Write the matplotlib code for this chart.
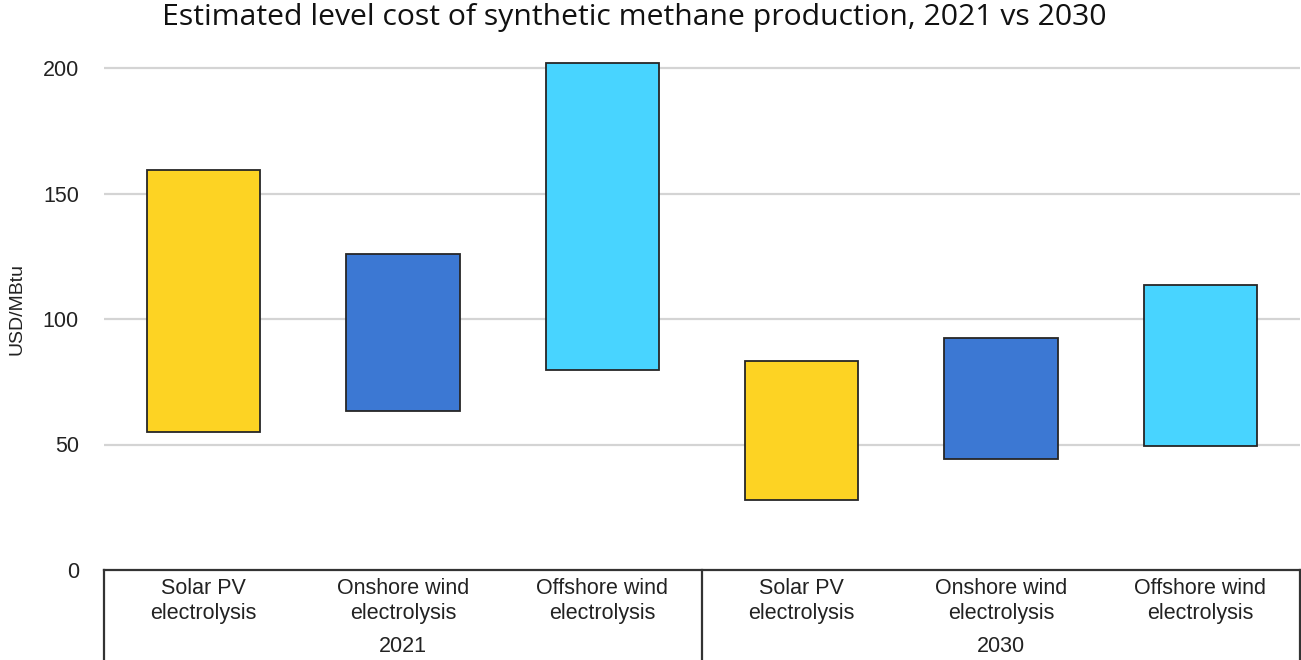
import matplotlib
matplotlib.use("Agg")
import matplotlib.pyplot as plt
import matplotlib.transforms as mtransforms

# Cost ranges (USD/MBtu) for each technology and year
technologies = ["Solar PV\nelectrolysis", "Onshore wind\nelectrolysis", "Offshore wind\nelectrolysis"]
years = ["2021", "2030"]
low_2021 = [55.0, 63.3, 79.7]
high_2021 = [159.4, 126.0, 202.0]
low_2030 = [27.9, 44.2, 49.5]
high_2030 = [83.3, 92.6, 113.6]
colors = ["#FDD323", "#3C78D3", "#48D4FF"]
yticks = [0, 50, 100, 150, 200]

plt.rcParams["font.family"] = ["Liberation Sans", "DejaVu Sans"]

fig = plt.figure(figsize=(13.01, 6.60), dpi=100)
W, H = 1301, 660
ax_left, ax_right = 104 / W, 1300 / W
y0_px, y200_px = 570, 68
px_per_unit = (y0_px - y200_px) / 200
ymax = 210
ax_top_px = y0_px - ymax * px_per_unit
ax = fig.add_axes([ax_left, 1 - y0_px / H, ax_right - ax_left, (y0_px - ax_top_px) / H])

lows = low_2021 + low_2030
highs = high_2021 + high_2030
positions = list(range(len(lows)))
bar_colors = colors * len(years)

ax.bar(positions, [h - l for h, l in zip(highs, lows)], bottom=lows, width=0.57,
       color=bar_colors, edgecolor="#262626", linewidth=1.3, zorder=3)

ax.set_xlim(-0.5, len(lows) - 0.5)
ax.set_ylim(0, ymax)
ax.set_yticks(yticks)
ax.set_yticklabels([str(t) for t in yticks], fontsize=15.5, color="#222222")
ax.tick_params(axis="y", length=0, pad=18)
ax.set_xticks([])
for y in yticks[1:]:
    ax.axhline(y, color="#d4d4d4", linewidth=1.6, zorder=1)
for s in ax.spines.values():
    s.set_visible(False)

ax.set_ylabel("USD/MBtu", fontsize=14, color="#222222")
ax.yaxis.set_label_coords(-0.066, 0.495)

# Grouped category axis drawn as a box below the plot
trans = mtransforms.blended_transform_factory(ax.transData, fig.transFigure)
y_axis_fig = 1 - y0_px / H
ax.plot([-0.5, len(lows) - 0.5], [y_axis_fig, y_axis_fig], transform=trans,
        color="#333333", linewidth=1.6, clip_on=False)
for xb in [-0.5, 2.5, 5.5]:
    ax.plot([xb, xb], [y_axis_fig, 0], transform=trans, color="#333333",
            linewidth=1.6, clip_on=False)

for i, pos in enumerate(positions):
    ax.text(pos, 1 - 600.5 / H, technologies[i % len(technologies)], transform=trans,
            ha="center", va="center", fontsize=15.5, color="#222222", linespacing=1.25)
for g, yr in enumerate(years):
    ax.text(g * 3 + 1, 1 - 646 / H, yr, transform=trans, ha="center", va="center",
            fontsize=15.5, color="#222222")

fig.text(634 / W, 1 - 18 / H, "Estimated level cost of synthetic methane production, 2021 vs 2030",
         ha="center", va="center", fontsize=21.7, color="#111111",
         family=["Open Sans", "DejaVu Sans"])

fig.savefig("out.png", dpi=100)
